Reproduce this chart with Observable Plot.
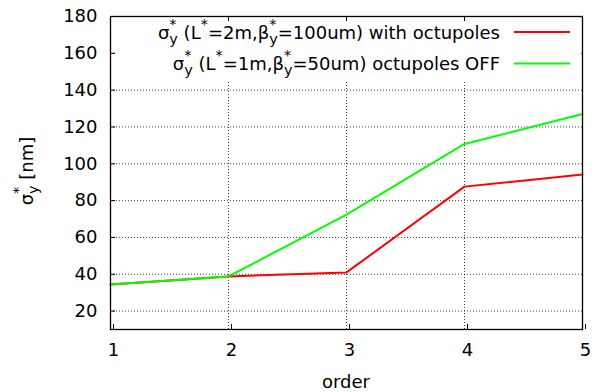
<!DOCTYPE html>
<html><head><meta charset="utf-8">
<script src="https://cdn.jsdelivr.net/npm/d3@7"></script>
<script src="https://cdn.jsdelivr.net/npm/@observablehq/plot@0.6"></script>
<style>html,body{margin:0;padding:0;background:#fff;} svg{display:block}</style>
</head><body><div id="chart"></div>
<script>
const order = [1, 2, 3, 4, 5];
const withOctupoles = [34.4, 38.8, 41.0, 87.6, 94.2];
const octupolesOff = [34.4, 38.8, 72.4, 110.8, 127.0];
const yTicks = [20, 40, 60, 80, 100, 120, 140, 160, 180];
const seriesNames = ["with octupoles", "octupoles OFF"];
const seriesColors = ["#ff0000", "#00ff00"];
const xLabel = "order";

const rows = [
  ...order.map((o, i) => ({order: o, value: withOctupoles[i], series: seriesNames[0]})),
  ...order.map((o, i) => ({order: o, value: octupolesOff[i], series: seriesNames[1]}))
];

const FONT = "DejaVu Sans";
const grid = {stroke: "#000", strokeOpacity: 0.75, strokeDasharray: "1,2", strokeWidth: 1};

const chart = Plot.plot({
  width: 592, height: 392,
  marginLeft: 110, marginRight: 10, marginTop: 16, marginBottom: 63,
  style: {fontFamily: FONT, fontSize: "18px", background: "white", color: "#000"},
  x: {domain: [1, 5]},
  y: {domain: [10, 180]},
  color: {domain: seriesNames, range: seriesColors},
  marks: [
    Plot.gridY(yTicks.filter(v => v < 180), grid),
    Plot.gridX(order.filter(v => v > 1 && v < 5), grid),
    Plot.line(rows, {x: "order", y: "value", z: "series", stroke: "series", strokeWidth: 2}),
    Plot.axisY({ticks: yTicks, tickSize: -5, tickPadding: 18, label: null}),
    Plot.axisX({ticks: order, tickSize: -5, tickPadding: 19, label: null, dx: 3, tickFormat: d3.format("d")}),
    Plot.axisX({anchor: "top", ticks: order.filter(v => v > 1 && v < 5), tickSize: -4, tickFormat: () => "", label: null}),
    Plot.frame({stroke: "#000", strokeWidth: 1.3})
  ]
});
document.getElementById("chart").append(chart);

const svg = d3.select(chart);

// rich text helper: parts of [string, kind]; kind "sup" or "subsup" (sub s[0], sup s[1] stacked)
function rich(textSel, parts, size) {
  let pdx = 0, pdy = 0;
  const small = size * 0.8;
  function add(s, fs) {
    const t = textSel.append("tspan").text(s);
    if (pdx) t.attr("dx", pdx);
    if (pdy) t.attr("dy", pdy);
    if (fs) t.attr("font-size", fs);
    pdx = 0; pdy = 0;
    return t.node().getComputedTextLength();
  }
  parts.forEach(([s, kind]) => {
    if (!kind) {
      add(s);
    } else if (kind === "sup") {
      pdy += -10;
      add(s, small);
      pdy += 10;
    } else if (kind === "subsup") {
      pdy += 5;
      const w = add(s[0], small);
      pdx += -w; pdy += -15;
      const w2 = add(s[1], small);
      pdx += w - w2; pdy += 10;
    }
  });
}

// Legend (inside plot, top right)
const leg = svg.append("g");
leg.append("rect").attr("x", 116).attr("y", 21).attr("width", 465).attr("height", 59).attr("fill", "white");
const legendRows = [
  [["σ"], ["y*", "subsup"], [" (L"], ["*", "sup"], ["=2m,β"], ["y*", "subsup"], ["=100um) " + seriesNames[0]]],
  [["σ"], ["y*", "subsup"], [" (L"], ["*", "sup"], ["=1m,β"], ["y*", "subsup"], ["=50um) " + seriesNames[1]]]
];
const rowY = [32, 63.5];
legendRows.forEach((parts, i) => {
  const t = leg.append("text").attr("x", 500).attr("y", rowY[i] + 6.5)
    .attr("text-anchor", "end").attr("font-family", FONT).attr("font-size", 18).attr("fill", "#000");
  rich(t, parts, 18);
  leg.append("line").attr("x1", 514).attr("x2", 570).attr("y1", rowY[i]).attr("y2", rowY[i])
    .attr("stroke", seriesColors[i]).attr("stroke-width", 2);
});

// Axis labels
svg.append("text").attr("x", 346).attr("y", 388).attr("text-anchor", "middle")
  .attr("font-family", FONT).attr("font-size", 18).attr("fill", "#000").text(xLabel);
const yl = svg.append("text").attr("transform", "translate(33,171) rotate(-90)")
  .attr("text-anchor", "middle").attr("font-family", FONT).attr("font-size", 18).attr("fill", "#000");
rich(yl, [["σ"], ["y*", "subsup"], [" [nm]"]], 18);
</script>
</body></html>
